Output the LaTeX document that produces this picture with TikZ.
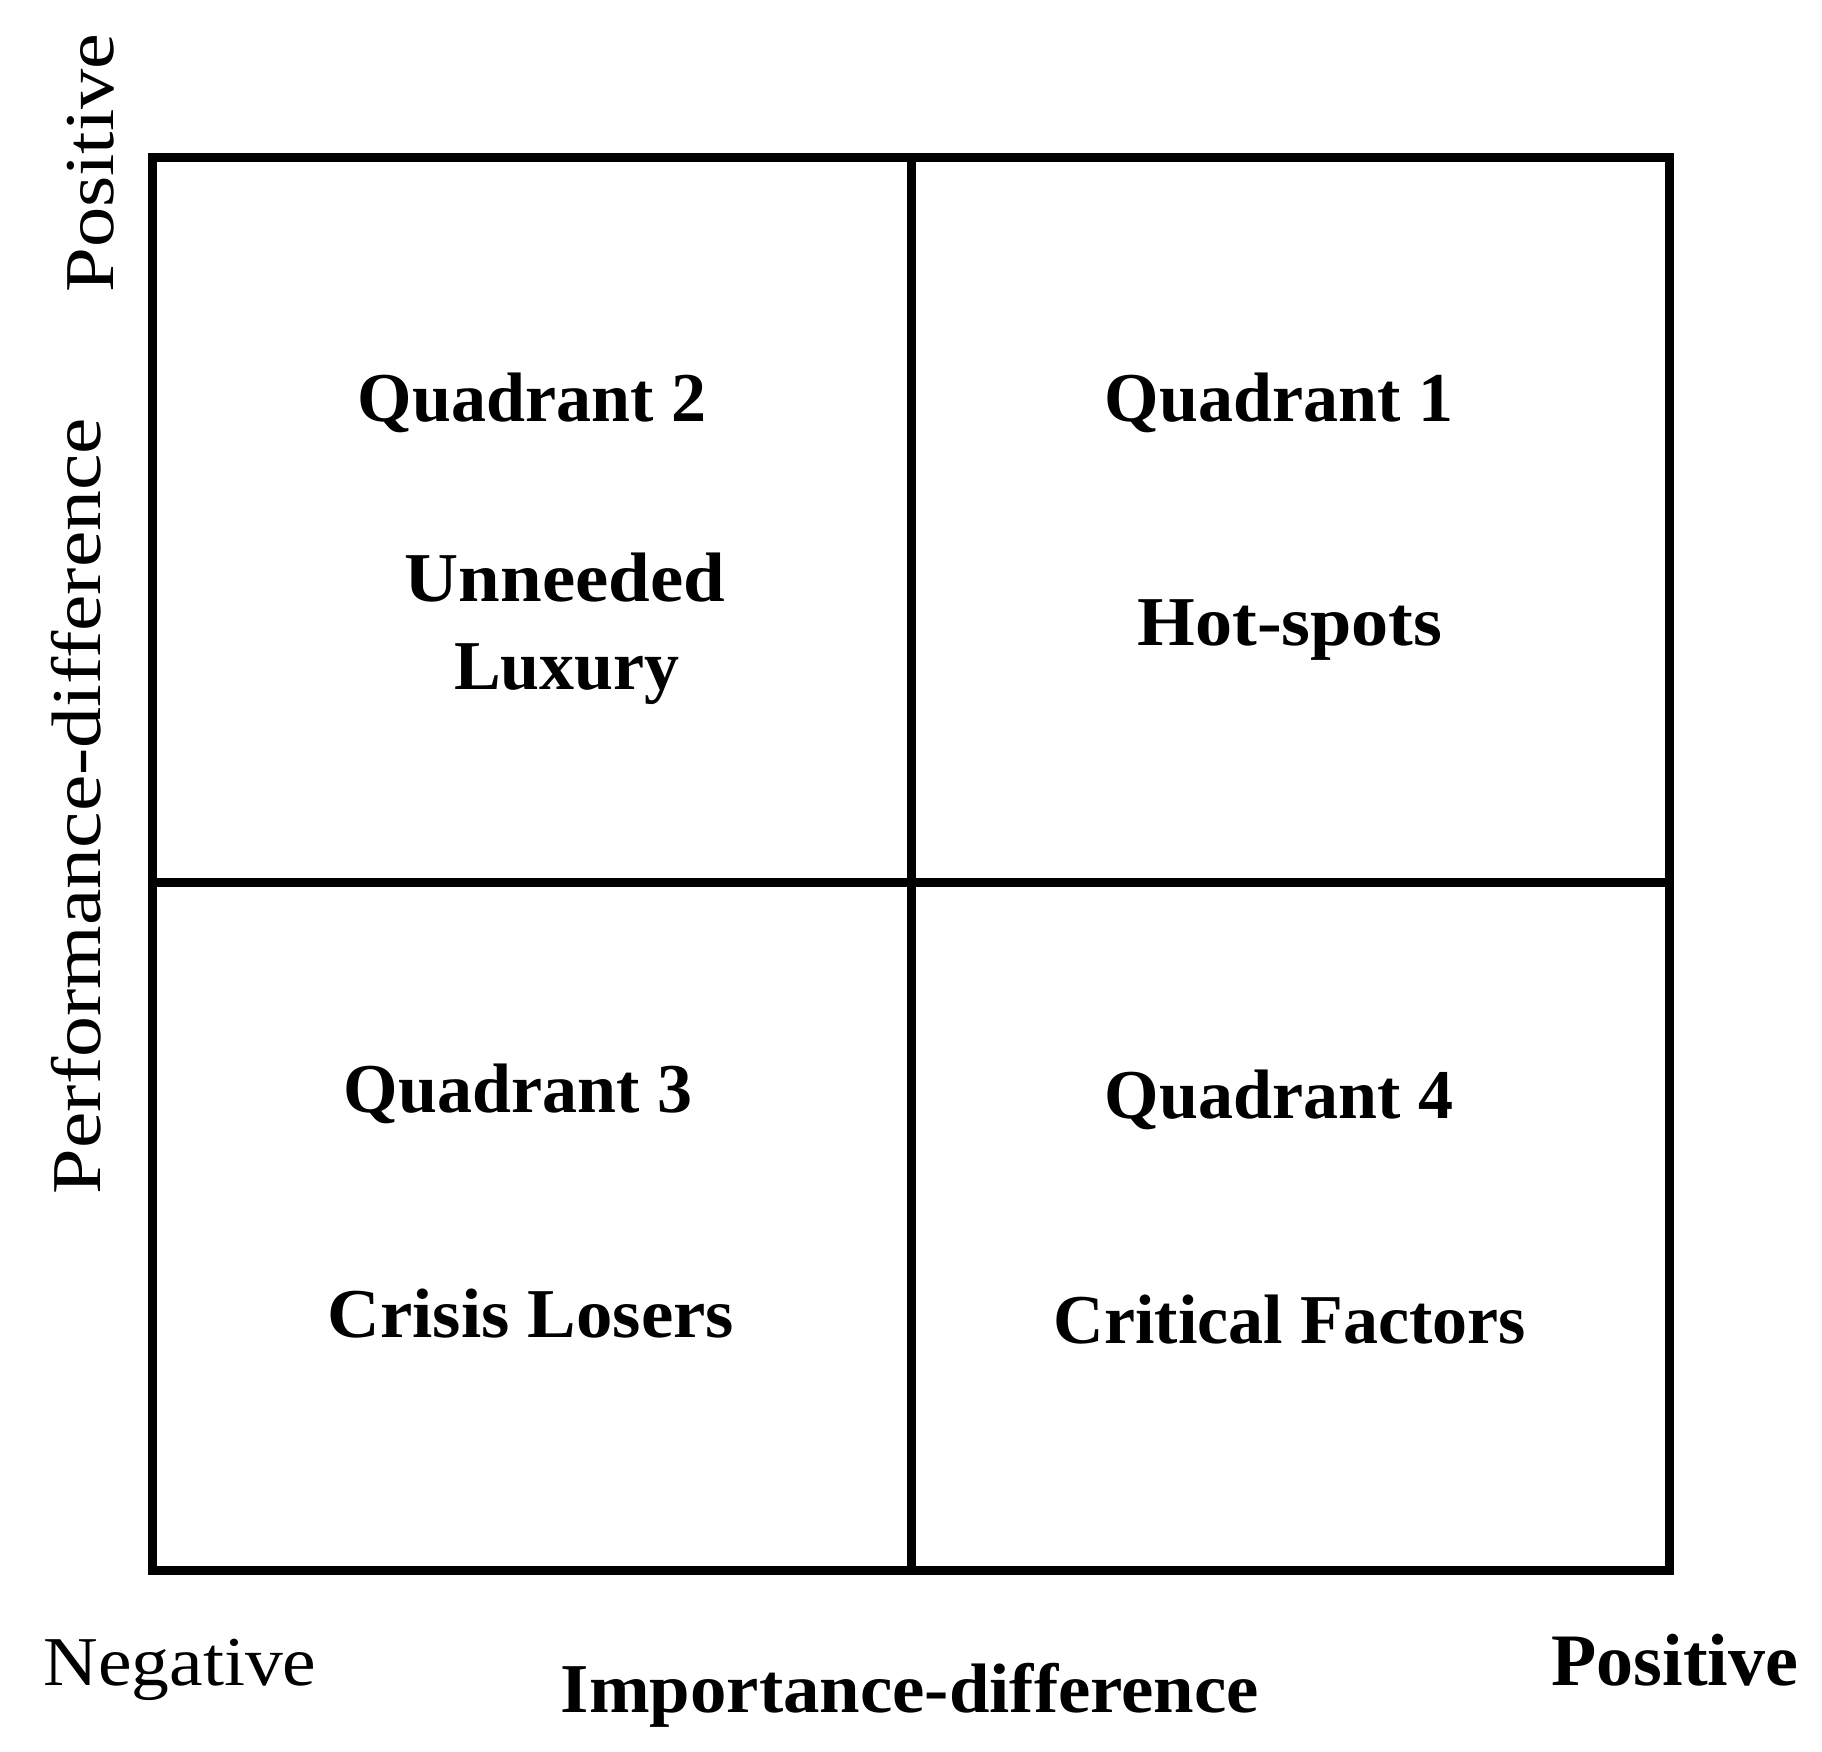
\documentclass[tikz,border=0pt]{standalone}
\usepackage[T1]{fontenc}
\usepackage{fontspec}
\newfontfamily\timesf{Liberation Serif}
\IfFileExists{t1ppl.fd}{\IfFileExists{uplb8t.tfm}{\def\palfam{ppl}}{}}{}
\ifdefined\palfam
  \newcommand\palbold{\fontencoding{T1}\fontfamily{\palfam}\fontseries{b}\fontshape{n}\selectfont}
\else
  \newcommand\palbold{\timesf\bfseries}
\fi
\begin{document}
\begin{tikzpicture}[x=0.5pt,y=-0.5pt,
  gridline/.style={line width=4.5pt},
  quad/.style={font=\palbold\fontsize{35pt}{42pt}\selectfont, inner sep=0pt, anchor=base},
  axtext/.style={font=\timesf\fontsize{35pt}{42pt}\selectfont, inner sep=0pt, anchor=base}]
\useasboundingbox (0,0) rectangle (1822,1752);
\fill[white] (0,0) rectangle (1822,1752);
% frame and dividers
\coordinate (tl) at (152,157);
\coordinate (br) at (1669,1570);
\coordinate (mt) at (911,157);
\coordinate (mb) at (911,1570);
\coordinate (ml) at (152,882);
\coordinate (mr) at (1669,882);
\draw[gridline] (tl) rectangle (br);
\draw[gridline] (mt) -- (mb);
\draw[gridline] (ml) -- (mr);
% quadrant texts
\node[quad] (q2) at (532,421) {Quadrant 2};
\node[quad] (un) at (565,601) {\scalebox{1.07}[1]{Unneeded}};
\node[quad] (lux) at (567,689) {Luxury};
\node[quad] (q1) at (1279,421) {Quadrant 1};
\node[quad] (hot) at (1290,645) {\scalebox{1.06}[1]{Hot-spots}};
\node[quad] (q3) at (518,1112) {Quadrant 3};
\node[quad] (cl) at (531,1337) {\scalebox{1.04}[1]{Crisis Losers}};
\node[quad] (q4) at (1279,1118) {Quadrant 4};
\node[quad] (cf) at (1290,1343) {Critical Factors};
% axis texts
\node[quad] (imp) at (910,1712) {\scalebox{1.04}[1]{Importance-difference}};
\node[axtext] (neg) at (180,1685) {\scalebox{1.08}[1]{Negative}};
\node[axtext, font=\timesf\bfseries\fontsize{37pt}{44pt}\selectfont] (posx) at (1675,1685) {Positive};
\node[axtext, rotate=90] (posy) at (113,163) {\scalebox{1.15}[1]{Positive}};
\node[axtext, rotate=90] (perf) at (100,806) {\scalebox{1.17}[1]{Performance-difference}};
\end{tikzpicture}
\end{document}
